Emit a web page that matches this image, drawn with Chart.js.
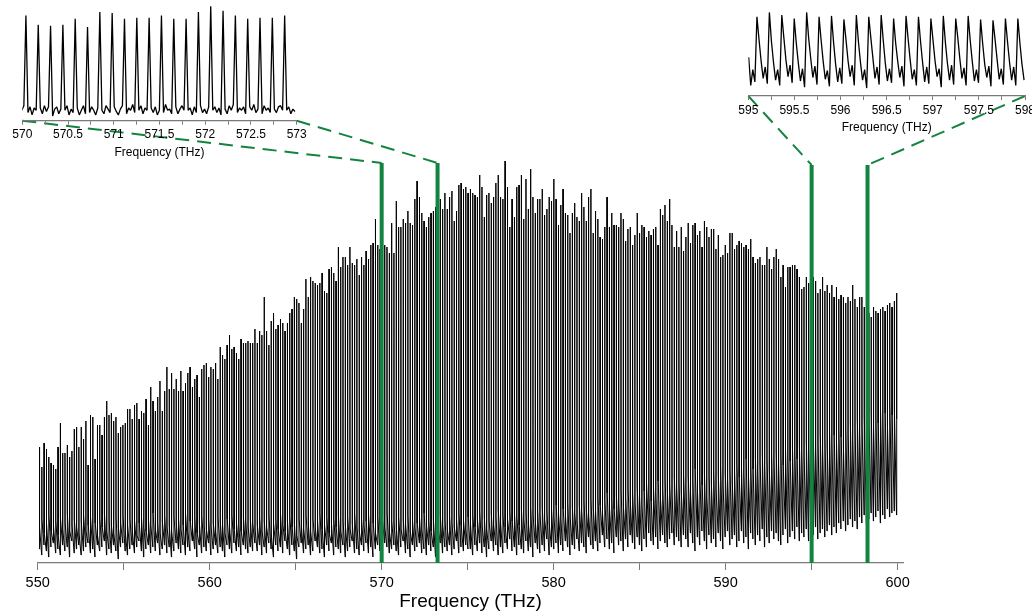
<!DOCTYPE html>
<html>
<head>
<meta charset="utf-8">
<title>Frequency comb spectrum</title>
<script src="https://cdn.jsdelivr.net/npm/chart.js@4/dist/chart.umd.min.js"></script>
<style>
  html, body { margin: 0; padding: 0; background: #fff; overflow: hidden; }
  #wrap { position: relative; width: 1032px; height: 615px; }
  canvas { position: absolute; }
  #main  { left: 0; top: 0; }
  #zoomA { left: 0; top: 0; }
  #zoomB { left: 720px; top: 0; }
</style>
</head>
<body>
<div id="wrap">
  <canvas id="main" width="1032" height="615"></canvas>
  <canvas id="zoomA" width="330" height="165"></canvas>
  <canvas id="zoomB" width="330" height="140"></canvas>
</div>
<script>
// ---- comb geometry (THz) ----
const combStart = 550.104;
const combSpacing = 0.1347;

// ---- tooth peak heights (arb. units), teeth 0-93 ----
const combPeaksA = [
  58,48,60,57,53,50,49,47,58,70,
  55,55,59,53,56,67,68,58,68,62,
  71,49,74,73,52,69,69,64,73,81,
  74,75,71,73,65,68,69,70,77,77,
  72,79,80,72,76,75,82,69,88,81,
  76,83,91,76,86,98,87,95,87,92,
  86,96,86,90,95,98,88,92,94,83,
  97,99,100,93,98,97,100,92,108,104,
  102,109,114,107,108,105,102,112,110,110,
  111,110,110,117
];
// teeth 94-185
const combPeaksB = [
  110,116,114,133,116,109,121,125,117,119,
  122,120,116,120,125,127,133,132,130,120,
  127,142,133,143,141,140,139,140,145,136,
  135,147,148,145,141,158,148,153,153,149,
  158,150,149,152,144,153,149,156,152,159,
  160,172,159,157,165,159,158,155,170,155,
  181,168,168,172,170,176,170,169,182,191,
  183,175,171,168,173,175,176,178,180,182,
  177,185,177,183,186,171,176,189,190,187,
  188,185
];
// teeth 186-278
const combPeaksC = [
  187,185,184,183,194,188,173,184,185,180,
  183,190,194,183,182,201,188,168,182,173,
  188,189,194,172,192,177,197,183,175,182,
  182,187,174,177,183,181,192,182,169,179,
  187,175,174,165,175,180,173,171,185,178,
  171,183,187,165,176,172,163,162,168,183,
  168,175,169,169,168,175,172,161,167,168,
  159,164,175,165,169,168,163,166,164,167,
  168,159,177,174,179,171,182,169,158,166,
  158,168,156
];
// teeth 279-370
const combPeaksD = [
  163,170,160,169,170,164,166,158,171,168,
  163,167,167,157,164,153,154,159,155,165,
  165,157,159,161,160,158,159,157,162,153,
  150,152,153,149,149,158,152,147,153,157,
  152,143,149,138,148,148,149,149,147,143,
  137,138,143,140,141,143,141,135,137,143,
  136,139,135,139,133,138,132,134,133,130,
  133,131,139,132,128,133,133,128,124,125,
  123,128,126,125,127,128,126,129,130,128,
  131,135
];

// ---- lowest point just before each tooth ----
const combTroughsA = [
  7,4,9,6,3,8,10,5,7,4,
  9,6,8,3,11,5,7,9,4,6,
  8,10,5,7,3,9,6,8,11,4,
  7,5,9,6,2,8,10,6,4,7,
  9,5,8,11,6,3,7,9,5,8,
  6,10,4,7,9,5,8,3,6,10,
  7,5,9,4,8,6,11,7,3,9,
  5,8,6,10,4,7,9,5,8,6,
  3,9,7,5,10,6,8,4,9,7,
  5,8,6,10
];
const combTroughsB = [
  6,9,4,8,5,10,7,3,9,6,
  8,5,11,7,4,9,6,2,8,10,
  5,7,9,4,6,11,8,5,7,3,
  9,6,10,4,8,7,5,9,3,6,
  8,11,5,7,4,9,6,10,5,8,
  3,7,9,6,4,10,8,5,7,9,
  6,4,8,11,5,7,3,9,6,8,
  10,5,7,4,9,6,8,3,7,10,
  5,8,6,9,4,7,11,5,8,6,
  9,7
];
const combTroughsC = [
  7,4,9,6,10,5,8,3,7,11,
  6,9,4,8,5,10,7,12,6,8,
  4,9,7,5,11,6,8,3,10,7,
  5,9,6,12,4,8,7,10,5,9,
  6,11,8,4,9,7,12,6,10,8,
  5,13,9,7,11,6,10,14,8,12,
  7,10,5,13,9,11,6,12,8,14,
  10,7,13,9,6,12,8,15,11,9,
  13,7,11,14,10,8,12,15,9,13,
  11,8,14
];
const combTroughsD = [
  12,8,15,10,6,13,9,16,11,7,
  14,10,12,8,15,11,7,13,16,9,
  12,14,8,11,16,10,13,7,15,12,
  9,14,11,17,8,13,10,16,12,15,
  11,9,14,17,10,13,16,12,18,11,
  15,13,17,11,16,14,18,12,15,17,
  13,16,19,14,18,15,20,17,21,16,
  19,22,18,21,17,23,20,24,19,22,
  25,21,23,26,20,24,22,27,23,25,
  26,24
];

// ---- noise-floor level just after each tooth ----
const combFloorA = [
  18,22,15,20,24,16,19,21,14,23,
  17,20,25,16,19,22,18,15,21,24,
  16,19,23,17,20,14,22,18,25,16,
  21,19,15,23,18,20,24,16,19,22,
  17,21,14,20,23,18,16,22,19,25,
  17,20,15,21,24,18,19,16,23,20,
  22,17,19,25,16,21,18,23,15,20,
  24,19,17,22,18,20,16,23,21,19,
  15,22,18,24,17,20,19,16,23,21,
  18,22,20,17
];
const combFloorB = [
  19,23,16,21,18,24,15,20,22,17,
  25,19,16,21,23,18,20,14,22,19,
  17,24,20,16,22,18,21,25,17,19,
  23,15,20,22,18,24,16,21,19,23,
  17,20,25,18,16,22,19,21,24,17,
  20,15,23,19,22,18,25,16,21,20,
  18,23,17,22,19,24,16,21,18,20,
  23,17,25,19,21,16,22,20,18,24,
  19,21,17,23,20,18,22,25,19,21,
  17,23
];
const combFloorC = [
  20,24,18,22,26,19,23,17,21,25,
  19,23,27,20,24,18,22,26,21,25,
  23,19,27,22,25,20,28,24,21,26,
  24,28,22,26,20,27,23,29,25,22,
  27,24,30,23,28,25,21,29,26,31,
  27,24,32,28,26,33,29,25,31,35,
  28,32,27,34,30,36,29,33,37,31,
  35,30,38,33,29,36,40,34,31,38,
  35,41,33,37,42,36,39,34,43,38,
  40,36,44
];
const combFloorD = [
  38,44,35,41,47,36,42,39,45,33,
  43,40,46,37,44,48,39,45,42,47,
  41,46,50,43,48,45,52,44,49,47,
  53,46,50,55,48,52,47,54,51,56,
  50,54,49,57,53,51,58,55,52,59,
  56,53,61,57,55,63,58,60,65,57,
  62,59,66,60,64,61,67,63,58,68,
  64,70,62,67,72,65,69,74,66,71,
  76,68,73,70,78,72,75,69,80,74,
  77,72
];

// ---- marked windows (THz) and the height of each marker ----
const markerFreqs = [570, 573.25, 595, 598.25];
const markerTops = [200, 200, 199, 199];

// ---- main axis ----
const mainTickLabels = [550, 560, 570, 580, 590, 600];

// ---- close-up traces, sampled at 1/6 of the tooth spacing ----
const insetStep = combSpacing / 6;
const zoomAFirstTooth = 148, zoomALead = 2;
const zoomATrace = [
  9,13,
  91,7,12,5,11,9,
  83,11,6,13,8,12,
  82,4,10,12,6,10,
  83,9,13,5,10,7,
  88,11,5,9,13,6,
  81,7,12,9,5,11,
  94,9,6,13,10,7,
  93,12,8,5,10,13,
  88,6,11,9,14,7,
  89,9,13,6,11,9,
  89,11,7,12,5,9,
  91,7,14,9,10,6,
  88,12,6,10,13,9,
  88,9,11,5,12,7,
  94,13,7,10,6,12,
  99,9,12,7,11,5,
  95,10,6,13,9,14,
  91,7,11,9,12,6,
  88,12,9,14,7,10,
  89,6,13,9,11,7,
  89,10,7,12,13,9,
  91,9,12,6,10,8
];
const zoomBFirstTooth = 334, zoomBLead = 4;
const zoomBTrace = [
  44,12,30,16,
  90,64,40,20,33,14,
  95,62,38,18,30,12,
  92,66,41,22,35,15,
  88,60,37,17,31,10,
  95,65,42,21,34,13,
  90,63,39,19,29,11,
  91,61,36,16,32,14,
  87,64,40,22,35,12,
  92,62,38,18,30,9,
  90,66,43,20,33,13,
  92,63,37,17,31,15,
  88,60,39,21,34,11,
  91,65,41,19,30,12,
  90,62,38,16,33,14,
  88,64,40,22,31,10,
  91,61,37,18,35,13,
  88,66,42,20,32,12,
  91,63,39,17,30,15,
  87,60,36,21,34,11,
  86,64,41,19,31,13,
  88,62,38,18,33,12,
  88,60,36,18
];
const zoomARange = [570, 573];
const zoomBRange = [595, 598];

// ---- styling ----
const GREEN = '#13843f';
const AXIS_GREY = '#7a7a7a';
const FONT = "'Liberation Sans', Arial, Helvetica, sans-serif";
Chart.defaults.font.family = FONT;
Chart.defaults.color = '#000';

// ---- build the comb trace: trough, narrow peak, floor for every tooth ----
const peaks = [].concat(combPeaksA, combPeaksB, combPeaksC, combPeaksD);
const troughs = [].concat(combTroughsA, combTroughsB, combTroughsC, combTroughsD);
const floors = [].concat(combFloorA, combFloorB, combFloorC, combFloorD);
const spikeHalfWidth = 0.06 * combSpacing;
const mainPoints = [];
peaks.forEach((p, i) => {
  const f = combStart + i * combSpacing;
  mainPoints.push({ x: f - spikeHalfWidth, y: troughs[i] });
  mainPoints.push({ x: f, y: p });
  mainPoints.push({ x: f + spikeHalfWidth, y: floors[i] });
});

function tracePoints(trace, firstTooth, lead) {
  const start = combStart + firstTooth * combSpacing - lead * insetStep;
  return trace.map((v, k) => ({ x: start + k * insetStep, y: v }));
}

const halfStep = v => Math.abs(v * 2 - Math.round(v * 2)) < 1e-6;

function insetConfig(points, range, pad, axisHeight, tickPad, titleBottom) {
  return {
    type: 'line',
    data: { datasets: [{
      data: points,
      borderColor: '#000',
      borderWidth: 1.3,
      pointRadius: 0,
      tension: 0,
      borderJoinStyle: 'bevel'
    }] },
    options: {
      responsive: false,
      animation: false,
      events: [],
      layout: { padding: pad },
      plugins: { legend: { display: false }, tooltip: { enabled: false } },
      scales: {
        x: {
          type: 'linear',
          min: range[0], max: range[1],
          afterFit: s => { s.height = axisHeight; },
          border: { color: AXIS_GREY, width: 1.3 },
          grid: { drawOnChartArea: false, tickLength: 4, color: AXIS_GREY, tickColor: AXIS_GREY },
          ticks: {
            stepSize: 0.25,
            autoSkip: false,
            maxRotation: 0, minRotation: 0,
            padding: tickPad,
            color: '#000',
            font: { size: 12, family: FONT },
            callback: v => halfStep(v) ? String(v) : ''
          },
          title: {
            display: true,
            text: 'Frequency (THz)',
            color: '#000',
            font: { size: 12, family: FONT },
            padding: { top: 0, bottom: titleBottom }
          }
        },
        y: { display: false, min: 0, max: 100 }
      }
    }
  };
}

const zoomA = new Chart(document.getElementById('zoomA'),
  insetConfig(tracePoints(zoomATrace, zoomAFirstTooth, zoomALead), zoomARange,
    { left: 22.3, right: 33.3, top: 5, bottom: 0 }, 44.3, 3.2, 4.8));
const zoomB = new Chart(document.getElementById('zoomB'),
  insetConfig(tracePoints(zoomBTrace, zoomBFirstTooth, zoomBLead), zoomBRange,
    { left: 28.3, right: 25, top: 8, bottom: 0 }, 44, 3, 4.8));

// green markers on the spectrum and dashed leaders to the close-ups
const markerPlugin = {
  id: 'windowMarkers',
  afterDatasetsDraw(chart) {
    const { ctx, scales: { x, y } } = chart;
    const ends = (inset, canvasId) => {
      const el = document.getElementById(canvasId);
      const ox = el.offsetLeft, oy = el.offsetTop;
      const sx = inset.scales.x;
      return [
        { x: ox + sx.getPixelForValue(sx.min), y: oy + inset.chartArea.bottom },
        { x: ox + sx.getPixelForValue(sx.max), y: oy + inset.chartArea.bottom }
      ];
    };
    const starts = [].concat(ends(zoomA, 'zoomA'), ends(zoomB, 'zoomB'));
    const tops = markerFreqs.map((f, i) => ({ x: x.getPixelForValue(f), y: y.getPixelForValue(markerTops[i]) }));

    ctx.save();
    ctx.strokeStyle = GREEN;
    ctx.lineWidth = 2;
    ctx.setLineDash([14, 8]);
    starts.forEach((s, i) => {
      ctx.beginPath();
      ctx.moveTo(s.x, s.y);
      ctx.lineTo(tops[i].x, tops[i].y);
      ctx.stroke();
    });
    ctx.setLineDash([]);
    ctx.lineWidth = 4;
    tops.forEach(t => {
      ctx.beginPath();
      ctx.moveTo(t.x, y.getPixelForValue(0));
      ctx.lineTo(t.x, t.y);
      ctx.stroke();
    });
    ctx.restore();
  }
};

new Chart(document.getElementById('main'), {
  type: 'line',
  data: { datasets: [{
    data: mainPoints,
    borderColor: '#000',
    borderWidth: 1,
    pointRadius: 0,
    tension: 0,
    borderJoinStyle: 'bevel'
  }] },
  options: {
    responsive: false,
    animation: false,
    events: [],
    normalized: true,
    layout: { padding: { left: 37.7, right: 128.7, top: 153, bottom: 0 } },
    plugins: { legend: { display: false }, tooltip: { enabled: false } },
    scales: {
      x: {
        type: 'linear',
        min: 550, max: 600.33,
        afterFit: s => { s.height = 52; },
        border: { color: AXIS_GREY, width: 1.3 },
        grid: { drawOnChartArea: false, tickLength: 7, color: AXIS_GREY, tickColor: AXIS_GREY },
        ticks: {
          stepSize: 5,
          includeBounds: false,
          autoSkip: false,
          maxRotation: 0, minRotation: 0,
          padding: 4.5,
          color: '#000',
          font: { size: 14.5, family: FONT },
          callback: v => mainTickLabels.includes(v) ? String(v) : ''
        },
        title: {
          display: true,
          text: 'Frequency (THz)',
          color: '#000',
          font: { size: 19, family: FONT },
          padding: { top: 0, bottom: 1.5 }
        }
      },
      y: { display: false, min: 0, max: 205 }
    }
  },
  plugins: [markerPlugin]
});
</script>
</body>
</html>
